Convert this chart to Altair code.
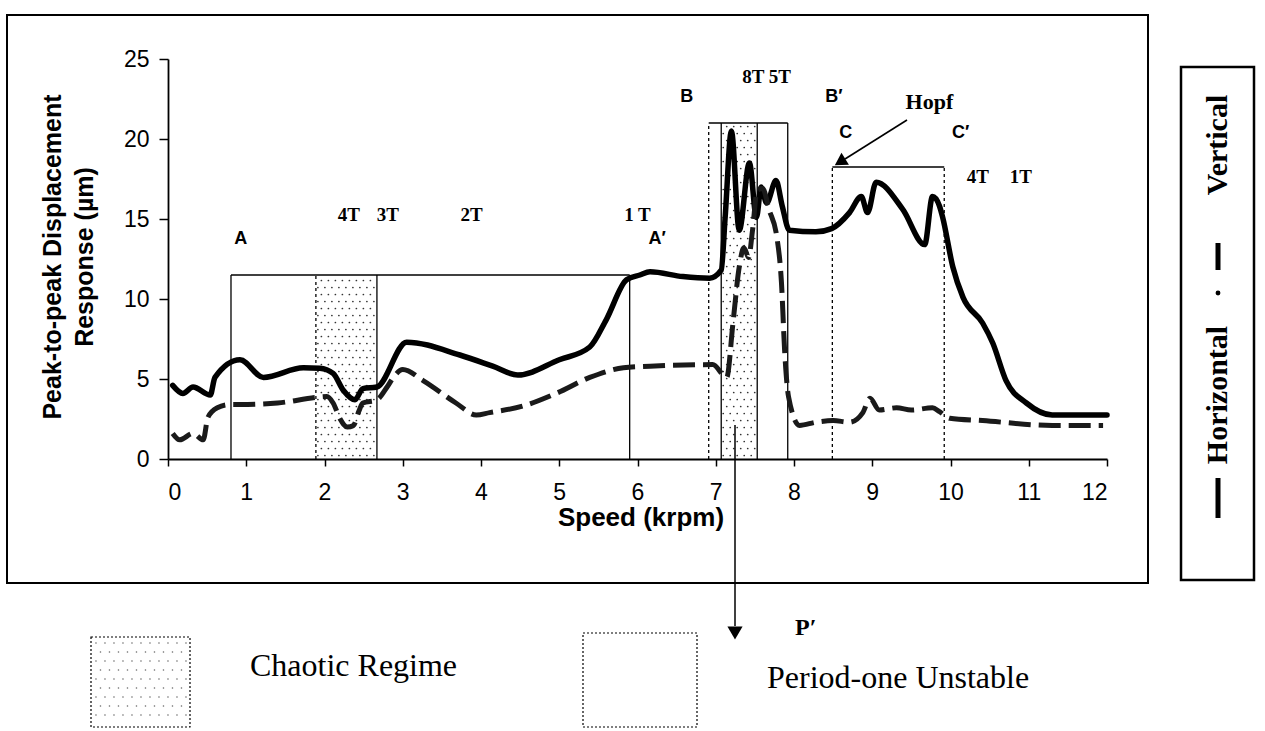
import altair as alt
import numpy as np
import pandas as pd

# ---------------------------------------------------------------------------
# Peak-to-peak response vs. speed (krpm, µm)
# ---------------------------------------------------------------------------
h_speed = [0.06, 0.19, 0.32, 0.54, 0.6, 0.92, 1.22, 1.73, 1.94, 2.11, 2.24, 2.39,
           2.49, 2.67, 3.05, 3.73, 4.15, 4.47, 5.0, 5.39, 5.6, 5.86, 6.03, 6.16,
           6.58, 6.92, 7.07, 7.12, 7.2, 7.3, 7.43, 7.52, 7.58, 7.65, 7.77, 7.85,
           7.94, 8.28, 8.48, 8.71, 8.86, 8.94, 9.05, 9.39, 9.67, 9.77, 9.86, 9.9,
           10.03, 10.16, 10.41, 10.54, 10.71, 10.97, 11.3, 12.0]
h_amp = [4.6, 4.1, 4.5, 4.0, 5.1, 6.2, 5.1, 5.7, 5.67, 5.35, 4.3, 3.7,
         4.4, 4.5, 7.3, 6.5, 5.8, 5.25, 6.2, 7.0, 8.7, 11.2, 11.5, 11.7,
         11.4, 11.3, 11.8, 15.1, 20.5, 14.3, 18.5, 15.1, 17.0, 16.0, 17.4, 15.8,
         14.3, 14.2, 14.4, 15.4, 16.4, 15.4, 17.3, 15.6, 13.4, 16.4, 15.8, 15.1,
         12.0, 10.1, 8.5, 7.25, 4.9, 3.5, 2.75, 2.75]

v_speed = [0.06, 0.15, 0.32, 0.45, 0.51, 0.63, 0.79, 0.92, 1.4, 1.9, 2.03, 2.11,
           2.2, 2.29, 2.37, 2.44, 2.49, 2.67, 2.8, 2.88, 3.0, 3.26, 3.68, 3.94,
           4.11, 4.53, 4.96, 5.39, 5.82, 6.16, 6.96, 7.14, 7.22, 7.3, 7.36, 7.42,
           7.47, 7.53, 7.6, 7.68, 7.78, 7.84, 7.88, 7.93, 8.07, 8.28, 8.5, 8.71,
           8.88, 8.97, 9.09, 9.31, 9.5, 9.77, 9.86, 9.99, 10.41, 11.3, 11.95]
v_amp = [1.6, 1.2, 1.6, 1.2, 2.6, 3.2, 3.4, 3.4, 3.5, 3.85, 3.9, 3.5,
         2.5, 2.0, 2.1, 3.0, 3.5, 3.7, 4.5, 5.1, 5.6, 4.9, 3.5, 2.75,
         2.9, 3.3, 4.1, 5.1, 5.7, 5.8, 5.9, 5.1, 8.5, 12.0, 13.2, 12.6,
         14.3, 16.8, 16.9, 15.6, 13.9, 11.0, 6.8, 3.9, 2.1, 2.3, 2.4, 2.3,
         2.9, 3.8, 3.06, 3.2, 3.06, 3.2, 2.96, 2.55, 2.4, 2.1, 2.1]

# Regime boxes A-A', B-B', C-C' (speed range, upper bound)
box_x0 = [0.805, 6.91, 8.49]
box_x1 = [5.9, 7.92, 9.92]
box_top = [11.5, 21.0, 18.25]
box_left_dashed = [False, True, True]
box_right_dashed = [False, False, True]

# Chaotic bands
chaos_x0 = [1.89, 7.07]
chaos_x1 = [2.67, 7.53]
chaos_top = [11.5, 21.0]
chaos_left_dashed = [True, False]

# Annotations (speed, µm)
sans_text = ["A", "A\u2032", "B", "B\u2032", "C", "C\u2032"]
sans_x = [0.93, 6.25, 6.63, 8.51, 8.66, 10.13]
sans_y = [13.75, 13.75, 22.6, 22.6, 20.4, 20.4]
serif_text = ["4T", "3T", "2T", "1 T", "8T 5T", "4T", "1T"]
serif_x = [2.31, 2.81, 3.88, 6.0, 7.65, 10.35, 10.9]
serif_y = [15.25, 15.25, 15.25, 15.25, 23.85, 17.6, 17.6]
hopf_x, hopf_y = 9.73, 22.3

x_ticks = list(range(0, 13))
y_ticks = [0, 5, 10, 15, 20, 25]

# ---------------------------------------------------------------------------
W, H = 939, 400
OX, OY = 168, 59          # plot origin inside the page
PX_X = W / 12.0
PX_Y = H / 25.0
SANS = "Liberation Sans"
SERIF = "Liberation Serif"

xs = alt.Scale(domain=[0, 12], nice=False, zero=False)
ys = alt.Scale(domain=[0, 25], nice=False, zero=False)

x_axis = alt.Axis(values=x_ticks, title=None, format="d", labelAngle=0,
                  labelFont=SANS, labelFontSize=23, labelColor="black",
                  domainColor="black", domainWidth=1.8, tickColor="black",
                  tickWidth=1.5, tickSize=7, labelPadding=15, grid=False)
y_axis = alt.Axis(values=y_ticks, title=None, format="d",
                  labelFont=SANS, labelFontSize=23, labelColor="black",
                  domainColor="black", domainWidth=1.8, tickColor="black",
                  tickWidth=1.5, tickSize=9, labelPadding=10, grid=False)


def X(field):
    return alt.X(field, type="quantitative", scale=xs, axis=x_axis)


def Y(field):
    return alt.Y(field, type="quantitative", scale=ys, axis=y_axis)


# page positions (px) -> data units, for the furniture around the plot
def dx(px):
    return (px - OX) / PX_X


def dy(py):
    return (OY + H - py) / PX_Y


def frame_df(**cols):
    return pd.DataFrame({k: v if isinstance(v, list) else [v] for k, v in cols.items()})


# ---- stippled fill for the chaotic bands ----------------------------------
def stipple(x0, x1, y0, y1, step=7.0):
    sx, sy = [], []
    rows = np.arange(y0 * PX_Y + step / 2, y1 * PX_Y - 1, step)
    for i, ry in enumerate(rows):
        off = step / 2 if i % 2 else 0.0
        for cx in np.arange(x0 * PX_X + 2 + off, x1 * PX_X - 1, step):
            sx.append(cx / PX_X)
            sy.append(ry / PX_Y)
    return sx, sy


dots_x, dots_y = [], []
for a, b, t in zip(chaos_x0, chaos_x1, chaos_top):
    sx, sy = stipple(a, b, 0, t)
    dots_x += sx
    dots_y += sy
dots = alt.Chart(pd.DataFrame({"s": dots_x, "a": dots_y})).mark_circle(
    size=3, color="#111", opacity=0.85).encode(x=X("s"), y=Y("a"))

# ---- regime box outlines ---------------------------------------------------
segs = []
for x0, x1, t, ld, rd in zip(box_x0, box_x1, box_top, box_left_dashed, box_right_dashed):
    segs.append((x0, x0, 0, t, ld))
    segs.append((x1, x1, 0, t, rd))
    segs.append((x0, x1, t, t, False))
for x0, x1, t, ld in zip(chaos_x0, chaos_x1, chaos_top, chaos_left_dashed):
    segs.append((x0, x0, 0, t, ld))
    segs.append((x1, x1, 0, t, False))
seg_df = pd.DataFrame(segs, columns=["x", "x2", "y", "y2", "dashed"])

solid_edges = alt.Chart(seg_df[~seg_df.dashed]).mark_rule(
    color="black", strokeWidth=1.3).encode(x=X("x"), x2="x2", y=Y("y"), y2="y2")
dashed_edges = alt.Chart(seg_df[seg_df.dashed]).mark_rule(
    color="black", strokeWidth=1.3, strokeDash=[3, 3]).encode(
    x=X("x"), x2="x2", y=Y("y"), y2="y2")

# ---- response curves -------------------------------------------------------
horizontal = alt.Chart(pd.DataFrame({"speed": h_speed, "amp": h_amp})).mark_line(
    interpolate="monotone", color="black", strokeWidth=5.5,
    strokeJoin="round", strokeCap="round").encode(x=X("speed"), y=Y("amp"))

vertical = alt.Chart(pd.DataFrame({"speed": v_speed, "amp": v_amp})).mark_line(
    interpolate="monotone", color="#1a1a1a", strokeWidth=5,
    strokeDash=[22, 8]).encode(x=X("speed"), y=Y("amp"))

# ---- annotations in data space ---------------------------------------------
sans_labels = alt.Chart(pd.DataFrame({"t": sans_text, "s": sans_x, "a": sans_y})).mark_text(
    font=SANS, fontWeight="bold", fontSize=18, color="black").encode(
    x=X("s"), y=Y("a"), text="t:N")
serif_labels = alt.Chart(pd.DataFrame({"t": serif_text, "s": serif_x, "a": serif_y})).mark_text(
    font=SERIF, fontWeight="bold", fontSize=19, color="black").encode(
    x=X("s"), y=Y("a"), text="t:N")
hopf_label = alt.Chart(frame_df(t="Hopf", s=hopf_x, a=hopf_y)).mark_text(
    font=SERIF, fontWeight="bold", fontSize=22, color="black").encode(
    x=X("s"), y=Y("a"), text="t:N")

# ---- frame, key and titles --------------------------------------------------
frame = alt.Chart(frame_df(x=dx(7), x2=dx(1148), y=dy(15), y2=dy(583))).mark_rect(
    fillOpacity=0, stroke="black", strokeWidth=2).encode(x=X("x"), x2="x2", y=Y("y"), y2="y2")

legend_box = alt.Chart(frame_df(x=dx(1181), x2=dx(1254), y=dy(67), y2=dy(580))).mark_rect(
    fillOpacity=0, stroke="black", strokeWidth=2.5).encode(x=X("x"), x2="x2", y=Y("y"), y2="y2")

LX = dx(1218)
legend_bars = alt.Chart(frame_df(x=[LX, LX], y=[dy(478), dy(243)], y2=[dy(518), dy(270)])).mark_rule(
    color="black", strokeWidth=5).encode(x=X("x"), y=Y("y"), y2="y2")
legend_dot = alt.Chart(frame_df(x=LX, y=dy(293))).mark_circle(
    color="black", size=24, opacity=1).encode(x=X("x"), y=Y("y"))
legend_text = alt.Chart(frame_df(t=["Horizontal", "Vertical"], x=[LX, LX],
                                 y=[dy(395), dy(145)])).mark_text(
    font=SERIF, fontWeight="bold", fontSize=30, angle=270, color="black").encode(
    x=X("x"), y=Y("y"), text="t:N")

y_title = alt.Chart(frame_df(t=["Peak-to-peak Displacement", "Response (\u00b5m)"],
                             x=[dx(53), dx(85)], y=[dy(257), dy(257)])).mark_text(
    font=SANS, fontWeight="bold", fontSize=25, angle=270, color="black").encode(
    x=X("x"), y=Y("y"), text="t:N")
x_title = alt.Chart(frame_df(t="Speed (krpm)", x=dx(641), y=dy(518))).mark_text(
    font=SANS, fontWeight="bold", fontSize=26, color="black").encode(
    x=X("x"), y=Y("y"), text="t:N")

# Hopf arrow
hopf_line = alt.Chart(frame_df(x=dx(907), x2=dx(845), y=dy(120), y2=dy(159))).mark_rule(
    color="black", strokeWidth=1.6).encode(x=X("x"), x2="x2", y=Y("y"), y2="y2")
hopf_head = alt.Chart(frame_df(x=dx(840), y=dy(162))).mark_point(
    shape="triangle-up", angle=238, filled=True, size=200, color="black", opacity=1).encode(
    x=X("x"), y=Y("y"))

# P' arrow
p_line = alt.Chart(frame_df(x=dx(735), y=dy(425), y2=dy(626))).mark_rule(
    color="black", strokeWidth=1.5).encode(x=X("x"), y=Y("y"), y2="y2")
p_head = alt.Chart(frame_df(x=dx(735), y=dy(633))).mark_point(
    shape="triangle-down", filled=True, size=230, color="black", opacity=1).encode(
    x=X("x"), y=Y("y"))
p_text = alt.Chart(frame_df(t="P\u2032", x=dx(795), y=dy(628))).mark_text(
    font=SERIF, fontWeight="bold", fontSize=24, align="left", color="black").encode(
    x=X("x"), y=Y("y"), text="t:N")

# Key for the shaded regions
key_boxes = alt.Chart(frame_df(x=[dx(91), dx(583)], x2=[dx(190), dx(697)],
                               y=[dy(637), dy(633)], y2=[dy(727), dy(727)])).mark_rect(
    fillOpacity=0, stroke="black", strokeWidth=1.2, strokeDash=[2, 2]).encode(
    x=X("x"), x2="x2", y=Y("y"), y2="y2")
kx, ky = [], []
for i, yy in enumerate(np.arange(643, 723, 9.0)):
    off = 4.5 if i % 2 else 0.0
    for xx in np.arange(96 + off, 187, 9.0):
        kx.append(dx(float(xx)))
        ky.append(dy(float(yy)))
key_dots = alt.Chart(pd.DataFrame({"x": kx, "y": ky})).mark_circle(
    size=2.5, color="#444", opacity=0.8).encode(x=X("x"), y=Y("y"))
key_text = alt.Chart(frame_df(t=["Chaotic Regime", "Period-one Unstable"],
                              x=[dx(250), dx(767)], y=[dy(666), dy(678)])).mark_text(
    font=SERIF, fontSize=32, align="left", color="black").encode(
    x=X("x"), y=Y("y"), text="t:N")

chart = alt.layer(
    dots, solid_edges, dashed_edges, horizontal, vertical,
    sans_labels, serif_labels, hopf_label,
    frame, legend_box, legend_bars, legend_dot, legend_text,
    y_title, x_title, hopf_line, hopf_head, p_line, p_head, p_text,
    key_boxes, key_dots, key_text,
).properties(
    width=W, height=H,
    padding={"left": OX, "top": OY, "right": 1265 - OX - W, "bottom": 731 - OY - H},
    autosize="none",
    background="white",
).configure_view(stroke=None)

chart.save("out.html", embed_options={"renderer": "svg", "actions": False})
